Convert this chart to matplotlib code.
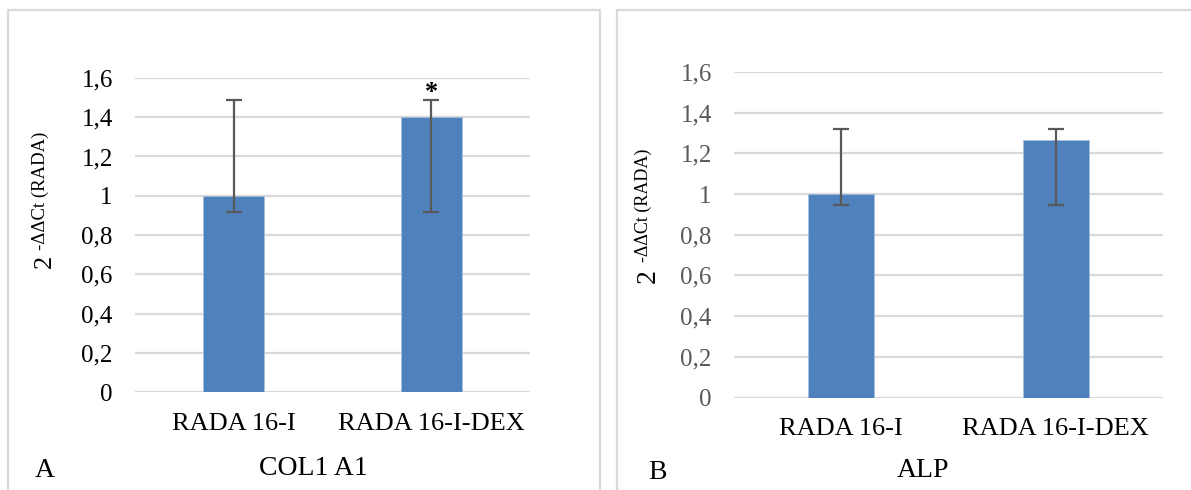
import matplotlib.pyplot as plt
from matplotlib.patches import Rectangle

# data
groups = ['RADA 16-I', 'RADA 16-I-DEX']
col1_vals = [1.0, 1.40]
col1_lo = [0.917, 0.917]
col1_hi = [1.487, 1.487]
col1_sig = ['', '*']
alp_vals = [1.0, 1.265]
alp_lo = [0.946, 0.946]
alp_hi = [1.32, 1.32]
yticks = [0, 0.2, 0.4, 0.6, 0.8, 1, 1.2, 1.4, 1.6]
ytick_labels = ['0', '0,2', '0,4', '0,6', '0,8', '1', '1,2', '1,4', '1,6']

W, H = 1191, 490
SERIF = ['Liberation Serif', 'DejaVu Serif']
BLUE = '#4F81BD'
GRID = '#D9D9D9'
ERR = '#595959'

fig = plt.figure(figsize=(W / 100, H / 100), dpi=100)
fig.patch.set_facecolor('white')


def px_axes(x0, x1, ytop, ybot):
    return fig.add_axes([x0 / W, (H - ybot) / H, (x1 - x0) / W, (ybot - ytop) / H])


def bar_panel(ax, vals, lo, hi, tick_color):
    xs = list(range(len(groups)))
    ax.bar(xs, vals, width=0.31, color=BLUE, edgecolor='#A7BFDE', linewidth=0.6, zorder=2)
    yerr = [[v - l for v, l in zip(vals, lo)], [h - v for v, h in zip(vals, hi)]]
    ax.errorbar(xs, vals, yerr=yerr, fmt='none', ecolor=ERR, elinewidth=1.6,
                capsize=6, capthick=1.6, zorder=3)
    ax.set_xlim(-0.5, len(groups) - 0.5)
    ax.set_ylim(0, 1.6)
    ax.set_yticks(yticks)
    ax.set_yticklabels(ytick_labels, family=SERIF, fontsize=18, color=tick_color)
    ax.set_xticks(xs)
    ax.set_xticklabels(groups, family=SERIF, fontsize=19, color='black')
    ax.tick_params(axis='both', length=0)
    ax.tick_params(axis='y', pad=16)
    ax.tick_params(axis='x', pad=15)
    ax.grid(axis='y', color=GRID, linewidth=1.6, zorder=0)
    ax.set_axisbelow(True)
    for s in ax.spines.values():
        s.set_visible(False)
    return xs


def ylabel_px(x2, y2, xs, ys, big, small):
    # "2" then the superscript text, rotated, anchored on the baseline
    fig.text(x2 / W, (H - y2) / H, '2', rotation=90, rotation_mode='anchor',
             ha='left', va='baseline', family=SERIF, fontsize=big, color='black')
    fig.text(xs / W, (H - ys) / H, '-ΔΔCt (RADA)', rotation=90,
             rotation_mode='anchor', ha='left', va='baseline', family=SERIF,
             fontsize=small, color='black')


# panel borders
fig.patches.append(Rectangle((8 / W, -0.05), 592 / W, (H - 10) / H + 0.05,
                             transform=fig.transFigure, fill=False,
                             edgecolor=GRID, linewidth=1.6))
fig.patches.append(Rectangle((617 / W, -0.05), 600 / W, (H - 10) / H + 0.05,
                             transform=fig.transFigure, fill=False,
                             edgecolor=GRID, linewidth=1.6))

# A: COL1 A1
ax1 = px_axes(135, 530, 78, 392)
xs = bar_panel(ax1, col1_vals, col1_lo, col1_hi, 'black')
for x, h, s in zip(xs, col1_hi, col1_sig):
    if s:
        ax1.annotate(s, (x, h), xytext=(0, 0.5), textcoords='offset points',
                     ha='center', va='baseline', fontsize=19, fontweight='bold',
                     family=SERIF, color='black')
ylabel_px(51, 268, 45, 250, 19, 13.5)
fig.text(313 / W, (H - 468) / H, 'COL1 A1', ha='center', va='center',
         family=SERIF, fontsize=20, color='black')
fig.text(35 / W, (H - 470) / H, 'A', ha='left', va='center',
         family=SERIF, fontsize=20, color='black')

# B: ALP
ax2 = px_axes(734, 1163, 72, 397.5)
bar_panel(ax2, alp_vals, alp_lo, alp_hi, '#595959')
ylabel_px(655, 283, 648, 262, 20, 13)
fig.text(923 / W, (H - 470) / H, 'ALP', ha='center', va='center',
         family=SERIF, fontsize=20, color='black')
fig.text(648 / W, (H - 472) / H, 'B', ha='left', va='center',
         family=SERIF, fontsize=20, color='black')

fig.savefig('out.png', dpi=100)
